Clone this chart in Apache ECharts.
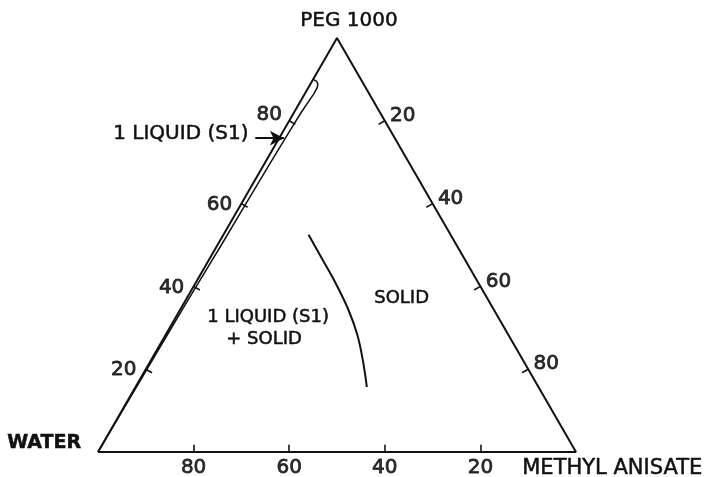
<!DOCTYPE html>
<html><head><meta charset="utf-8">
<script src="https://cdn.jsdelivr.net/npm/echarts/dist/echarts.min.js"></script>
<style>html,body{margin:0;padding:0;background:#fff}#c{width:711px;height:477px}</style>
</head><body><div id="c"></div>
<script>
// Ternary compositions given as PEG % and Methyl anisate % (water = 100 - PEG - MA)
const bottomTicks = [80, 60, 40, 20];   // water %
const leftTicks = [20, 40, 60, 80];     // PEG %
const rightTicks = [20, 40, 60, 80];    // methyl anisate %
const boundaryPEG = [52.5, 46.6, 40.6, 34.6, 28.3, 22.2, 15.7];
const boundaryMA  = [17.8, 23.6, 29.5, 35.0, 40.1, 44.3, 48.4];
const bandPEG = [90, 89.6, 89, 88, 86.5, 85, 82, 78, 70, 60, 50, 42, 35, 25, 12, 0];
const bandMA  = [0, 0.9, 1.5, 1.85, 1.9, 1.75, 1.5, 1.35, 1.15, 0.95, 0.8, 0.6, 0.45, 0.3, 0.15, 0];
const arrowPEG = [75.8, 75.8];
const arrowMA  = [-5.0, 1.0];

const S3 = Math.sqrt(3) / 2;
function T(p, m) { return [m + p / 2, p * S3]; }

const edges = [T(0, 0), T(100, 0), T(0, 100), T(0, 0)];
const TL = 1.5; // tick length in data units
const tickSegs = [];
const tickLabelPts = [];
bottomTicks.forEach(w => { const a = T(0, 100 - w); tickSegs.push({coords: [a, [a[0], a[1] + TL]]}); tickLabelPts.push({value: a, name: String(w), side: 'b'}); });
leftTicks.forEach(p => { const a = T(p, 0); tickSegs.push({coords: [a, [a[0] + TL * 0.866, a[1] - TL * 0.5]]}); tickLabelPts.push({value: a, name: String(p), side: p === 80 ? 'l80' : 'l'}); });
rightTicks.forEach(m => { const a = T(100 - m, m); tickSegs.push({coords: [a, [a[0] - TL * 0.866, a[1] - TL * 0.5]]}); tickLabelPts.push({value: a, name: String(m), side: 'r'}); });

const boundary = boundaryPEG.map((p, i) => T(p, boundaryMA[i]));
const band = bandPEG.map((p, i) => T(p, bandMA[i]));
const arrowPts = arrowPEG.map((p, i) => T(p, arrowMA[i]));

const FONT = 'DejaVu Sans';
const INK = '#111';
const labOff = {b: [0, 16], l: [-22, 1], l80: [-20, -6], r: [18, -5]};
const tx = (text, left, top, size, weight) => ({type: 'text', left, top,
  style: {text, fontFamily: FONT, fontSize: size, fontWeight: weight || 'normal', fill: INK, stroke: INK, lineWidth: 0.5}});

const chart = echarts.init(document.getElementById('c'), null, {renderer: 'canvas'});
chart.setOption({
  animation: false,
  backgroundColor: '#fff',
  grid: {left: 98, top: 38, width: 478, height: 414},
  xAxis: {type: 'value', min: 0, max: 100, show: false},
  yAxis: {type: 'value', min: 0, max: 100 * S3, show: false},
  series: [
    {type: 'line', data: edges, symbol: 'none', lineStyle: {color: INK, width: 2}},
    {type: 'line', data: band, symbol: 'none', smooth: false, lineStyle: {color: INK, width: 1.5}},
    {type: 'line', data: boundary, symbol: 'none', smooth: 0.35, lineStyle: {color: INK, width: 2}},
    {type: 'lines', coordinateSystem: 'cartesian2d', data: tickSegs, lineStyle: {color: INK, width: 1.6, opacity: 1}},
    {type: 'scatter', symbolSize: 0, data: tickLabelPts.map(d => ({value: d.value, name: d.name,
      label: {show: true, formatter: d.name, offset: labOff[d.side], position: 'inside', color: '#000',
        fontFamily: FONT, fontSize: 20, textBorderColor: '#000', textBorderWidth: 0.8}}))},
    {type: 'line', data: [], markLine: {silent: true, symbol: ['none', 'arrow'], symbolSize: [11, 14],
      lineStyle: {color: INK, width: 2, type: 'solid'}, label: {show: false},
      data: [[{coord: arrowPts[0]}, {coord: arrowPts[1]}]]}}
  ],
  graphic: [
    tx('PEG 1000', 300, 11, 20),
    tx('WATER', 7, 433, 19, 'bold'),
    tx('METHYL ANISATE', 522, 458, 21),
    tx('1 LIQUID (S1)', 113, 124, 20),
    tx('1 LIQUID (S1)', 207, 308, 18),
    tx('+ SOLID', 226, 330, 18),
    tx('SOLID', 374, 289, 18)
  ]
});
</script></body></html>
